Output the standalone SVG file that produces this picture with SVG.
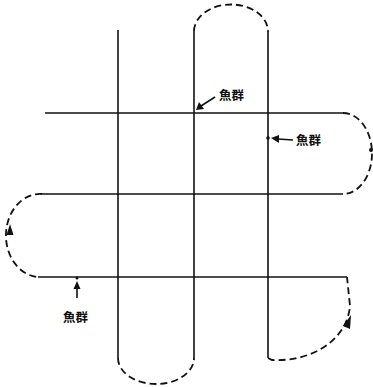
<svg xmlns="http://www.w3.org/2000/svg" width="373" height="387" viewBox="0 0 373 387">
<style>
.solid{fill:none;stroke:#111;stroke-width:1.6;}
.dash{fill:none;stroke:#111;stroke-width:1.8;stroke-dasharray:7 4;}
.lbl{font-family:"Noto Sans CJK SC","Noto Sans CJK JP",sans-serif;font-size:12.5px;font-weight:bold;fill:#111;}
.head{fill:#111;stroke:none;}
</style>
<rect width="373" height="387" fill="#fff"/>
<g id="connectors">
<g id="grid">
<line class="solid" x1="118" y1="30" x2="118" y2="358"/>
<line class="solid" x1="194" y1="31" x2="194" y2="358"/>
<line class="solid" x1="268" y1="32" x2="268" y2="358"/>
<line class="solid" x1="45" y1="113" x2="343" y2="113"/>
<line class="solid" x1="42" y1="194" x2="343" y2="194"/>
<line class="solid" x1="38" y1="277" x2="347" y2="277"/>
</g>
<g id="loops">
<path class="dash" d="M194 31 A37 27 0 0 1 268 32"/>
<path class="dash" d="M343 113 A29 40.5 0 0 1 343 194"/>
<path class="dash" d="M42 194 A34 41.5 0 0 0 38 277"/>
<path class="dash" d="M118 358 A38 26 0 0 0 194 358"/>
<path class="dash" d="M268 358 L272 360 C312 362 347 340 350 306 L347 277"/>
</g>
<g id="arrows">
<polygon class="head" points="10,224 6.5,235 13.5,235"/>
<polygon class="head" points="351,315 343,326 350,329"/>
<circle class="head" cx="371" cy="150" r="2"/>
</g>
</g>
<g id="label-top">
<line class="solid" x1="215" y1="97" x2="201" y2="106"/>
<polygon class="head" points="196,110 199,102 204,109"/>
<text class="lbl" x="219" y="100">魚群</text>
</g>
<g id="label-right">
<circle class="head" cx="268" cy="138" r="1.8"/>
<line class="solid" x1="293" y1="140" x2="278" y2="139"/>
<polygon class="head" points="271,138 279,135 279,143"/>
<text class="lbl" x="296" y="145">魚群</text>
</g>
<g id="label-bottom">
<circle class="head" cx="77" cy="278" r="1.5"/>
<line class="solid" x1="77" y1="298" x2="77" y2="287"/>
<polygon class="head" points="77,281 73.5,289 80.5,289"/>
<text class="lbl" x="63" y="322">魚群</text>
</g>
</svg>
